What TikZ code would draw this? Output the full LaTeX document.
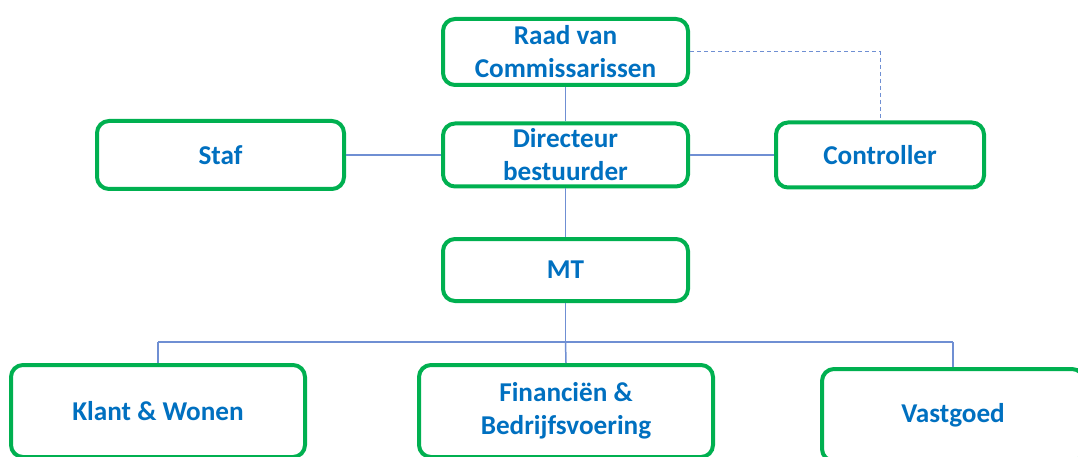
\documentclass[tikz,border=0pt]{standalone}
\usepackage{fontspec}
\setmainfont{Carlito}
\definecolor{boxgreen}{HTML}{00B050}
\definecolor{txtblue}{HTML}{0070C0}
\definecolor{linkblue}{HTML}{6F8FD3}
\tikzset{
  orgbox/.style={draw=boxgreen, line width=4pt, rounded corners=12pt, fill=white,
    align=center, text=txtblue, font=\fontsize{27.2}{33}\selectfont\bfseries, inner sep=0pt},
  link/.style={draw=linkblue, line width=1.5pt},
  dlink/.style={draw=linkblue, line width=1pt, dash pattern=on 4pt off 3pt}
}
\begin{document}
\begin{tikzpicture}[x=1pt,y=-1pt]
\useasboundingbox (0,0) rectangle (1078,457);
\clip (0,0) rectangle (1078,457);
\node[orgbox, minimum width=245pt, minimum height=66pt] (rvc) at (565.5,52) {Raad van\\Commissarissen};
\node[orgbox, minimum width=245pt, minimum height=63pt] (dir) at (565.5,155) {Directeur\\bestuurder};
\node[orgbox, minimum width=247pt, minimum height=68pt] (staf) at (220.5,155) {Staf};
\node[orgbox, minimum width=208pt, minimum height=65pt] (ctrl) at (880,155) {Controller};
\node[orgbox, minimum width=245pt, minimum height=62pt] (mt) at (565.5,270) {MT};
\node[orgbox, minimum width=294pt, minimum height=92pt] (klant) at (158,411) {Klant \& Wonen};
\node[orgbox, minimum width=294pt, minimum height=92pt] (fin) at (566,411) {Financiën \&\\Bedrijfsvoering};
\node[orgbox, minimum width=262pt, minimum height=92pt] (vast) at (953,415) {Vastgoed};
\coordinate (hub) at (565.5,342);
\coordinate (hl) at (158,342);
\coordinate (hr) at (953,342);
\draw[link] (rvc.south) -- (dir.north);
\draw[link] (dir.south) -- (mt.north);
\draw[link] (staf.east) -- (dir.west);
\draw[link] (dir.east) -- (ctrl.west);
\draw[link] (mt.south) -- (hub);
\draw[link] (hl) -- (hr);
\draw[link] (hl) -- (klant.north);
\draw[link] (hub) -- (fin.north);
\draw[link] (hr) -- (vast.north);
\draw[dlink] (rvc.east) -| (ctrl.north);
\end{tikzpicture}
\end{document}
